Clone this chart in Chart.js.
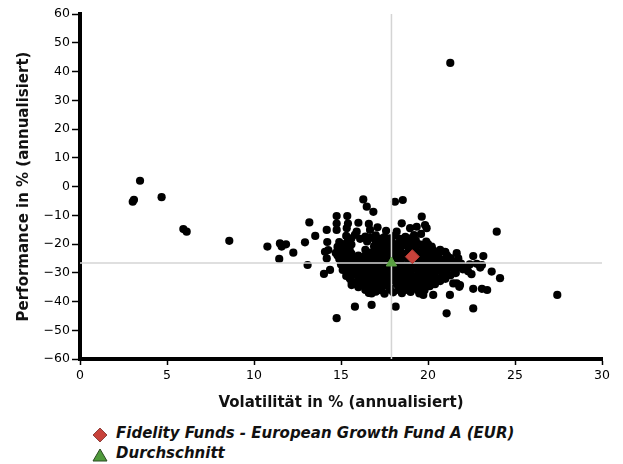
<!DOCTYPE html>
<html>
<head>
<meta charset="utf-8">
<script src="https://cdn.jsdelivr.net/npm/chart.js@4.4.1/dist/chart.umd.min.js"></script>
<style>
  html, body { margin: 0; padding: 0; background: #fff; }
  #wrap { position: relative; width: 623px; height: 464px; }
  #box { position: absolute; left: 0; top: 0; width: 623px; height: 416px; }
  .leg { position: absolute; left: 92px; height: 20px; line-height: 20px;
         font: italic bold 15px "DejaVu Sans", sans-serif; color: #111; white-space: nowrap; }
  .leg svg { position: absolute; left: 0; top: 3px; }
  .leg span { position: absolute; left: 24px; top: 0; }
</style>
</head>
<body>
<div id="wrap">
  <div id="box"><canvas id="c"></canvas></div>
  <div class="leg" style="top:424px;">
    <svg width="18" height="16" viewBox="0 0 18 16"><polygon points="8,1 15,8 8,15 1,8" fill="#c8423b" stroke="#7a2a25" stroke-width="0.8"/></svg>
    <span id="leg1"></span>
  </div>
  <div class="leg" style="top:444px;">
    <svg width="18" height="16" viewBox="0 0 18 16"><polygon points="8,2 15,14 1,14" fill="#4f9a3b" stroke="#2c4a22" stroke-width="1"/></svg>
    <span id="leg2"></span>
  </div>
</div>
<script>
// ---- data ----
const xAxisTitle = "Volatilität in % (annualisiert)";
const yAxisTitle = "Performance in % (annualisiert)";
const xTicks = [0, 5, 10, 15, 20, 25, 30];
const yTicks = [-60, -50, -40, -30, -20, -10, 0, 10, 20, 30, 40, 50, 60];
const fundName = "Fidelity Funds - European Growth Fund A (EUR)";
const avgName = "Durchschnitt";
const fundPoint = [19.1, -24.4];      // [volatility, performance]
const avgPoint = [17.9, -26.6];       // [volatility, performance]

// peer group funds: [volatility, performance]
const peers = [
  // isolated outliers
  [3.45, 2.0], [3.03, -5.3], [3.1, -4.6], [4.69, -3.7], [5.94, -14.8], [6.13, -15.7], [8.58, -18.9],
  [21.28, 43.0], [23.95, -15.7], [27.43, -37.7],
  // left wing
  [10.77, -20.9], [11.49, -19.8], [11.59, -20.9], [11.84, -20.1], [11.45, -25.2], [12.26, -23.0],
  [12.93, -19.4], [13.18, -12.5], [13.52, -17.2], [13.08, -27.3], [14.18, -15.1], [14.02, -30.4],
  [14.37, -29.0], [14.21, -19.3], [14.27, -22.1], [14.18, -25.0], [14.08, -22.7],
  // upper fringe
  [16.28, -4.5], [16.48, -7.0], [16.86, -8.8], [18.1, -5.3], [18.55, -4.7],
  [14.75, -10.3], [15.36, -10.3], [14.75, -12.9], [15.4, -12.9], [16.0, -12.6],
  [14.75, -15.1], [15.33, -14.5], [15.9, -15.7], [16.67, -15.1], [17.59, -15.4],
  [18.49, -12.8], [18.97, -14.5], [19.35, -14.0], [19.64, -10.5], [19.83, -13.4], [19.92, -14.5],
  [18.2, -15.7], [19.6, -16.5], [16.6, -13.0], [17.1, -14.2],
  // right fringe
  [20.21, -20.9], [20.98, -22.7], [21.65, -23.2], [21.74, -25.0], [22.6, -24.2], [23.18, -24.2],
  [18.56, -18.6], [19.14, -19.2], [19.64, -20.3], [23.66, -29.6], [24.14, -31.9],
  [21.84, -34.3], [22.6, -35.6], [23.1, -35.6], [23.4, -36.0], [21.45, -33.7], [21.65, -33.7], [21.8, -34.9],
  [22.3, -29.5], [23.0, -28.2], [23.1, -27.3], [22.5, -30.5],
  // lower fringe
  [15.61, -34.3], [15.8, -41.8], [16.76, -41.2], [14.75, -45.8], [16.76, -37.2], [18.14, -41.8],
  [19.73, -37.7], [20.3, -37.7], [21.26, -37.7], [21.07, -44.1], [22.6, -42.4], [16.67, -37.0],
  // dense core
  [15.3, -17.2], [15.8, -16.8], [16.4, -17.4], [17.0, -17.0], [17.5, -17.6], [18.1, -17.1], [18.7, -17.5], [19.2, -16.9],
  [14.9, -19.3], [15.4, -18.8], [16.5, -19.1], [17.0, -19.4], [17.4, -18.7], [17.9, -19.2], [18.4, -18.9], [18.9, -19.5], [19.3, -18.7], [19.9, -19.2],
  [14.8, -21.0], [15.3, -21.3], [16.9, -20.8], [17.3, -21.4], [17.8, -20.9], [18.3, -21.2], [18.8, -20.7], [19.2, -21.3], [19.7, -20.9], [20.2, -21.2],
  [14.7, -23.1], [15.2, -22.7], [15.6, -23.3], [16.7, -23.0], [17.1, -22.6], [17.6, -23.2], [18.1, -22.8], [18.6, -23.3], [19.0, -22.7], [19.5, -23.1], [20.0, -22.6], [20.5, -23.2], [21.0, -22.9],
  [14.9, -25.2], [15.3, -24.8], [15.8, -25.3], [16.2, -24.7], [16.6, -25.1], [17.1, -25.4], [17.5, -24.8], [18.0, -25.2], [18.5, -24.9], [19.5, -25.3], [19.9, -24.8], [20.4, -25.1], [20.9, -25.4], [21.3, -24.9],
  [15.0, -27.1], [15.4, -26.7], [15.9, -27.3], [16.3, -26.8], [16.8, -27.2], [17.2, -26.6], [17.6, -27.4], [18.3, -26.8], [18.7, -27.3], [19.2, -26.9], [19.6, -27.2], [20.1, -26.7], [20.5, -27.3], [21.0, -26.9], [21.4, -27.2], [21.9, -26.8], [22.4, -27.1], [22.8, -26.9],
  [15.1, -29.0], [15.6, -28.6], [16.0, -29.3], [16.5, -28.8], [16.9, -29.2], [17.4, -28.7], [17.8, -29.3], [18.3, -28.9], [18.8, -29.2], [19.2, -28.6], [19.7, -29.1], [20.1, -28.8], [20.6, -29.3], [21.1, -28.7], [21.5, -29.2], [22.0, -28.8],
  [15.3, -31.1], [15.8, -30.7], [16.2, -31.3], [16.7, -30.8], [17.1, -31.2], [17.6, -30.6], [18.0, -31.3], [18.5, -30.9], [18.9, -31.2], [19.4, -30.7], [19.8, -31.1], [20.3, -30.8], [20.8, -31.3], [21.3, -30.9],
  [15.6, -33.0], [16.1, -32.6], [16.5, -33.2], [17.0, -32.8], [17.4, -33.3], [17.9, -32.7], [18.4, -33.1], [18.8, -32.8], [19.3, -33.2], [19.7, -32.7], [20.2, -33.1], [20.7, -32.9],
  [16.0, -35.0], [16.5, -34.6], [16.9, -35.2], [17.4, -34.8], [17.8, -35.3], [18.3, -34.7], [18.7, -35.1], [19.2, -34.8], [19.7, -35.2], [20.1, -34.7],
  [16.6, -37.0], [17.0, -36.6], [17.5, -37.3], [18.0, -36.8], [18.5, -37.1], [19.0, -36.7], [19.5, -37.2],
  // in-between fill
  [15.6, -20.2], [17.2, -20.1], [18.1, -20.0], [19.0, -20.2], [16.4, -22.0], [17.9, -22.0], [19.3, -22.0], [20.3, -22.2],
  [15.1, -24.0], [16.0, -24.0], [17.3, -24.0], [18.8, -24.1], [20.2, -24.0], [15.7, -26.0], [16.9, -26.1], [18.0, -26.0], [19.4, -26.1], [20.7, -26.0], [21.6, -26.1],
  [15.3, -28.0], [16.7, -27.9], [18.0, -28.0], [19.4, -28.0], [20.8, -28.0], [22.2, -28.0], [15.5, -30.0], [17.0, -30.0], [18.6, -30.0], [20.0, -30.0], [21.6, -30.1],
  [16.0, -32.0], [17.3, -32.0], [18.7, -32.0], [20.0, -32.0], [21.0, -32.1], [16.3, -34.0], [17.7, -34.0], [19.0, -34.0], [20.4, -34.0], [16.9, -36.0], [18.3, -36.0], [19.4, -36.0],
  [15.6, -18.0], [16.1, -18.2], [16.7, -17.9], [17.3, -18.1], [17.8, -18.0], [18.4, -18.2], [19.0, -18.0],
  [15.1, -20.0], [17.6, -20.1], [18.6, -20.0], [19.5, -20.1], [20.0, -20.0],
  [15.0, -22.0], [15.5, -22.1], [17.0, -22.0], [17.5, -21.9], [18.4, -22.0], [18.9, -22.1], [19.8, -22.0], [20.7, -22.0],
  [14.8, -24.0], [15.6, -24.1], [16.4, -24.0], [16.9, -23.9], [17.8, -24.0], [18.3, -24.1], [19.2, -24.0], [19.7, -24.0], [20.6, -24.1], [21.1, -24.0],
  [15.1, -26.0], [15.5, -26.1], [16.2, -26.0], [16.5, -25.9], [17.3, -26.0], [17.7, -26.1], [18.4, -26.0], [18.9, -25.9], [19.8, -26.0], [20.2, -26.1], [21.1, -26.0],
  [15.6, -28.0], [16.1, -28.1], [16.4, -27.9], [17.1, -28.0], [17.5, -28.1], [18.5, -28.0], [18.9, -27.9], [19.9, -28.0], [20.3, -28.1], [21.2, -28.0], [21.7, -27.9],
  [15.9, -30.0], [16.3, -30.1], [16.7, -29.9], [17.4, -30.0], [18.2, -30.1], [19.0, -30.0], [19.5, -29.9], [20.4, -30.0], [21.0, -30.1],
  [15.5, -32.0], [16.5, -32.1], [16.9, -31.9], [17.7, -32.0], [18.2, -32.1], [19.2, -32.0], [19.6, -31.9], [20.5, -32.0],
  [15.9, -34.0], [16.7, -34.1], [17.2, -33.9], [18.2, -34.0], [18.6, -34.1], [19.5, -34.0], [20.0, -33.9],
  [16.4, -36.0], [17.3, -36.1], [17.8, -35.9], [18.8, -36.0], [19.8, -36.1]
];

const minus = s => String(s).replace('-', '\u2212');

document.getElementById('leg1').textContent = fundName;
document.getElementById('leg2').textContent = avgName;

const tickFont = { family: '"DejaVu Sans", sans-serif', size: 12.5 };
const titleFont = { family: '"DejaVu Sans", sans-serif', size: 15, weight: 'bold' };

new Chart(document.getElementById('c'), {
  type: 'scatter',
  data: {
    datasets: [
      { label: fundName, data: [{ x: fundPoint[0], y: fundPoint[1] }], pointStyle: 'rectRot', pointRadius: 7,
        backgroundColor: '#c8423b', borderColor: '#b03a33', borderWidth: 1, order: 0 },
      { label: avgName, data: [{ x: avgPoint[0], y: avgPoint[1] }], pointStyle: 'triangle', pointRadius: 6,
        backgroundColor: '#5aa042', borderColor: '#5aa042', borderWidth: 1, order: 1 },
      { label: 'vline', data: [{ x: avgPoint[0], y: yTicks[0] }, { x: avgPoint[0], y: yTicks[yTicks.length - 1] }],
        showLine: true, borderColor: '#d4d4d4', borderWidth: 1.5, pointRadius: 0, order: 2 },
      { label: 'hline', data: [{ x: xTicks[0], y: avgPoint[1] }, { x: xTicks[xTicks.length - 1], y: avgPoint[1] }],
        showLine: true, borderColor: '#d4d4d4', borderWidth: 1.5, pointRadius: 0, order: 2 },
      { label: 'peers', data: peers.map(p => ({ x: p[0], y: p[1] })), pointStyle: 'circle', pointRadius: 4.1,
        backgroundColor: '#000', borderColor: '#000', borderWidth: 0, order: 3 }
    ]
  },
  options: {
    responsive: true,
    maintainAspectRatio: false,
    animation: false,
    events: [],
    layout: { padding: { left: 11, right: 21, top: 14, bottom: 0 } },
    plugins: { legend: { display: false }, tooltip: { enabled: false } },
    scales: {
      x: {
        type: 'linear', min: xTicks[0], max: xTicks[xTicks.length - 1],
        afterBuildTicks: s => { s.ticks = xTicks.map(v => ({ value: v })); },
        afterFit: s => { s.height = 57; },
        ticks: { color: '#000', font: tickFont, padding: 3, maxRotation: 0, callback: v => minus(v) },
        grid: { display: true, drawOnChartArea: false, drawTicks: true, tickLength: 6, tickWidth: 1.5, tickColor: '#000' },
        border: { display: true, color: '#000', width: 4 },
        title: { display: true, text: xAxisTitle, color: '#111', font: titleFont, padding: { top: 4, bottom: 4 } }
      },
      y: {
        type: 'linear', min: yTicks[0], max: yTicks[yTicks.length - 1],
        afterBuildTicks: s => { s.ticks = yTicks.map(v => ({ value: v })); },
        afterFit: s => { s.width = 69; },
        ticks: { color: '#000', font: tickFont, padding: 2, callback: v => minus(v) },
        grid: { display: true, drawOnChartArea: false, drawTicks: true, tickLength: 8, tickWidth: 1.5, tickColor: '#000' },
        border: { display: true, color: '#000', width: 4 },
        title: { display: true, text: yAxisTitle, color: '#111', font: titleFont, padding: { top: 4, bottom: 4 } }
      }
    }
  }
});
</script>
</body>
</html>
